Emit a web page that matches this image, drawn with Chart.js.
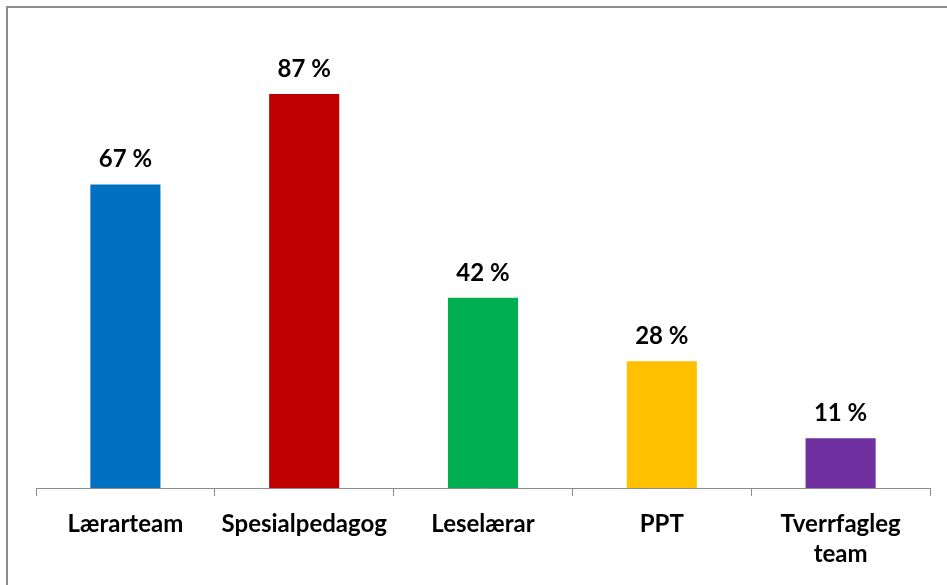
<!DOCTYPE html>
<html>
<head>
<meta charset="UTF-8">
<title>Andel</title>
<style>
body { margin: 0; background: #fff; overflow: hidden; }
.frame {
	position: absolute;
	left: 6px;
	top: 6px;
	width: 1000px;
	height: 700px;
	border: 2px solid #8c8c8c;
}
.chart-container {
	position: absolute;
	left: 0;
	top: 0;
	width: 947px;
	height: 585px;
}
</style>
<script src="https://cdn.jsdelivr.net/npm/chart.js"></script>
</head>
<body>
	<div class="frame"></div>
	<div class="chart-container">
		<canvas id="bar-chart"></canvas>
	</div>

	<script>
		const categories = ['Lærarteam', 'Spesialpedagog', 'Leselærar', 'PPT', ['Tverrfagleg', 'team']];
		const values = [67, 87, 42, 28, 11];
		const colors = ['#0070C0', '#C00000', '#00B050', '#FFC000', '#7030A0'];

		// tekst over kvar søyle
		const valueLabels = {
			id: 'valueLabels',
			afterDatasetsDraw(chart) {
				const c = chart.ctx;
				const meta = chart.getDatasetMeta(0);
				c.save();
				c.font = 'bold 24px Lato';
				c.fillStyle = '#000';
				c.textAlign = 'center';
				c.textBaseline = 'alphabetic';
				meta.data.forEach((bar, i) => {
					c.fillText(values[i] + ' %', bar.x, bar.y - 17);
				});
				c.restore();
			}
		};

		new Chart(document.querySelector('#bar-chart'), {
			type: 'bar',
			data: {
				labels: categories,
				datasets: [{
					data: values,
					backgroundColor: colors,
					barPercentage: 0.49,
					categoryPercentage: 0.8
				}]
			},
			options: {
				responsive: true,
				maintainAspectRatio: false,
				animation: false,
				layout: { padding: { left: 36, right: 17, top: 35, bottom: 3 } },
				plugins: { legend: { display: false }, tooltip: { enabled: false } },
				scales: {
					x: {
						grid: {
							drawOnChartArea: false,
							drawTicks: true,
							tickLength: 8,
							color: '#8c8c8c'
						},
						border: { display: true, color: '#8c8c8c' },
						ticks: {
							color: '#000',
							padding: 13,
							maxRotation: 0,
							font: { family: 'Lato', size: 24, weight: 'bold', lineHeight: 1.25 }
						}
					},
					y: {
						display: false,
						min: 0,
						max: 100
					}
				}
			},
			plugins: [valueLabels]
		});
	</script>
</body>
</html>
